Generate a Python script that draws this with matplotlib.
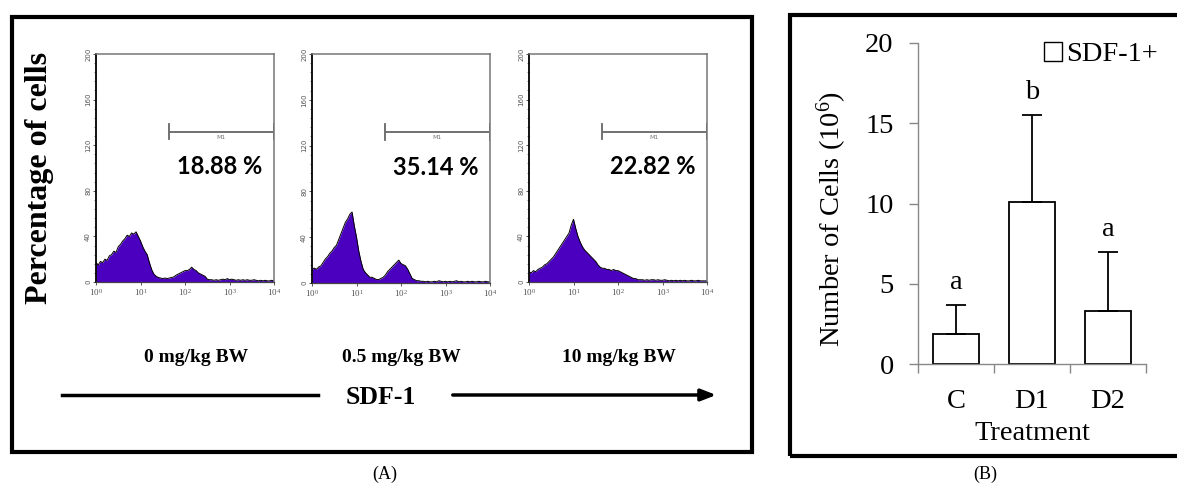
import numpy as np
import matplotlib
matplotlib.use("Agg")
import matplotlib.pyplot as plt
from matplotlib.patches import Rectangle, Patch, FancyArrowPatch
from matplotlib.ticker import MultipleLocator, FixedLocator, NullFormatter, LogLocator

plt.rcParams['font.family'] = ['Liberation Serif', 'DejaVu Serif']
plt.rcParams['mathtext.fontset'] = 'custom'
plt.rcParams['mathtext.rm'] = 'Liberation Serif'
plt.rcParams['mathtext.it'] = 'Liberation Serif:italic'

# ---- Panel A: flow cytometry histograms (81 channels over 10^0..10^4) ----
doses = ["0 mg/kg BW", "0.5 mg/kg BW", "10 mg/kg BW"]
gate_percent = ["18.88 %", "35.14 %", "22.82 %"]

counts_0 = [17, 15, 18, 17, 20, 19, 23, 24, 27, 26, 31, 33, 36, 38, 41, 40, 43, 42, 44, 40,
            36, 31, 27, 24, 17, 11, 7, 5, 4, 3.5, 3, 3.5, 3, 3.5, 4, 4.5, 6, 7, 8, 9,
            10, 10, 11, 13, 11, 10, 8, 7, 6, 5, 2.5, 2, 2, 1.5, 2, 1.5, 2, 2.5, 2, 3,
            2, 2.5, 2, 1.5, 2, 1.5, 2, 1.5, 2, 1.5, 1.5, 2, 1.5, 1, 1.5, 1, 1.5, 1, 1, 1.5, 1]
counts_05 = [12, 13, 12, 14, 15, 18, 21, 23, 26, 28, 31, 33, 38, 43, 48, 53, 56, 60, 62, 50,
             40, 28, 19, 12, 9, 7, 5, 5, 4, 3, 3, 4, 5, 7, 10, 12, 14, 16, 18, 20,
             17, 16, 15, 12, 8, 4, 3, 2, 2, 1.5, 1.5, 1, 1.5, 1, 1, 1.5, 1, 2, 1.5, 1,
             1.5, 1, 1.5, 1, 1.5, 2, 1, 1.5, 1, 1, 1.5, 1, 1.5, 1, 1, 1.5, 1, 1, 1.5, 1, 1]
counts_10 = [9, 8, 10, 9, 11, 12, 13, 15, 16, 18, 20, 22, 25, 28, 31, 34, 37, 40, 43, 50,
             55, 47, 40, 35, 31, 28, 26, 24, 22, 20, 18, 15, 13, 12, 12, 11, 11, 10, 11, 10,
             10, 9, 8, 7, 6, 5, 4, 3, 3, 2, 2, 2, 1.5, 2, 1.5, 2, 2, 1.5, 2, 1.5,
             1.5, 2, 1.5, 1, 1.5, 1, 1.5, 1, 1.5, 1, 1.5, 1, 1, 1.5, 1, 1, 1.5, 1, 1, 1, 1]
histograms = [counts_0, counts_05, counts_10]
channels = np.logspace(0, 4, len(counts_0))

gate_start, gate_end, gate_level = 10 ** 1.64, 10 ** 4, 132

# ---- Panel B: SDF-1+ cell counts ----
treatments = ["C", "D1", "D2"]
cells = [1.9, 10.1, 3.3]
cells_sd = [1.8, 5.4, 3.7]
groups = ["a", "b", "a"]

W, H = 1177, 491
fig = plt.figure(figsize=(W / 100, H / 100), dpi=100)


def fig_rect(x0, y0, x1, y1):
    return [x0 / W, 1 - y1 / H, (x1 - x0) / W, (y1 - y0) / H]


purple = "#4B00BF"
hist_boxes = [(96, 54, 274, 282), (312, 54, 490, 283), (529, 54, 707, 282)]
for box, counts, pct in zip(hist_boxes, histograms, gate_percent):
    ax = fig.add_axes(fig_rect(*box))
    ax.fill_between(channels, counts, color=purple, lw=0)
    ax.plot(channels, counts, color='black', lw=0.7)
    ax.set_xscale('log')
    ax.set_xlim(1, 1e4)
    ax.set_ylim(0, 200)
    ax.xaxis.set_major_locator(FixedLocator([1, 10, 100, 1000, 10000]))
    ax.xaxis.set_minor_locator(LogLocator(base=10, subs=np.arange(2, 10)))
    ax.xaxis.set_minor_formatter(NullFormatter())
    ax.set_xticklabels([r'$10^{%d}$' % i for i in range(5)], fontsize=6.5,
                       color='#555555')
    ax.set_yticks(range(0, 201, 40))
    ax.set_yticklabels([str(v) for v in range(0, 201, 40)], fontsize=5,
                       rotation=90, color='#555555', va='center', family='DejaVu Sans')
    ax.yaxis.set_minor_locator(MultipleLocator(8))
    ax.tick_params(axis='both', which='major', length=2.5, width=0.7, pad=1, colors='#555555')
    ax.tick_params(axis='both', which='minor', length=1.3, width=0.5, colors='#555555')
    for side in ('top', 'right'):
        ax.spines[side].set_color('#777777')
        ax.spines[side].set_linewidth(1.1)
    ax.spines['left'].set_color('black')
    ax.spines['left'].set_linewidth(1.3)
    ax.spines['bottom'].set_color('#444444')
    ax.spines['bottom'].set_linewidth(0.9)
    # M1 gate marker
    ax.plot([gate_start, gate_end], [gate_level, gate_level], color='#666666', lw=1.3,
            solid_capstyle='butt')
    for gx in (gate_start, gate_end):
        ax.plot([gx, gx], [gate_level - 7, gate_level + 7], color='#666666', lw=1.3)
    ax.text(np.sqrt(gate_start * gate_end), gate_level - 3, 'M1', fontsize=4.5,
            color='#777777', ha='center', va='top', family='DejaVu Sans')
    ax.text(10 ** 2.78, 101, pct, fontsize=17, fontweight='bold', ha='center', va='center',
            family=['Lato', 'Liberation Sans', 'DejaVu Sans'])

for x, label in zip([196, 401, 619], doses):
    fig.text(x / W, 1 - 357 / H, label, fontsize=14, fontweight='bold',
             ha='center', va='center')

fig.text(40 / W, 1 - 178 / H, 'Percentage of cells', fontsize=23, fontweight='bold',
         rotation=90, ha='center', va='center')
fig.text(381 / W, 1 - 397 / H, 'SDF-1', fontsize=18.5, fontweight='bold',
         ha='center', va='center')
fig.add_artist(plt.Line2D([62 / W, 318 / W], [1 - 395 / H, 1 - 395 / H],
                          color='black', lw=2.5, transform=fig.transFigure))
fig.patches.append(FancyArrowPatch(
    (450 / W, 1 - 395 / H), (719 / W, 1 - 395 / H), transform=fig.transFigure,
    arrowstyle='-|>,head_length=0.9,head_width=0.35', color='black', lw=2.5,
    mutation_scale=10))

# ---- bar chart ----
axb = fig.add_axes(fig_rect(918, 43, 1146, 364))
xpos = np.arange(len(treatments))
axb.bar(xpos, cells, width=0.6, color='white', edgecolor='black', lw=1.3,
        yerr=[np.zeros(len(cells)), cells_sd],
        error_kw=dict(ecolor='black', elinewidth=1.3, capsize=7, capthick=1.3))
for xi, v, sd, g in zip(xpos, cells, cells_sd, groups):
    axb.text(xi, v + sd + 1.4, g, fontsize=20.5, ha='center', va='center')
axb.set_xlim(-0.5, 2.5)
axb.set_ylim(0, 20)
axb.set_yticks([0, 5, 10, 15, 20])
axb.tick_params(axis='y', direction='out', length=6.5, width=1, colors='#888888',
                labelcolor='black', labelsize=20.5, pad=11)
axb.xaxis.set_major_locator(FixedLocator([-0.5, 0.5, 1.5, 2.5]))
axb.xaxis.set_major_formatter(NullFormatter())
axb.xaxis.set_minor_locator(FixedLocator(list(xpos)))
axb.set_xticklabels(treatments, minor=True)
axb.tick_params(axis='x', which='major', direction='out', length=6.5, width=1,
                colors='#888888')
axb.tick_params(axis='x', which='minor', length=0, labelsize=20.5, labelcolor='black', pad=18)
for side in ('top', 'right'):
    axb.spines[side].set_visible(False)
for side in ('left', 'bottom'):
    axb.spines[side].set_color('#888888')
    axb.spines[side].set_linewidth(1.0)
axb.set_xlabel('Treatment', fontsize=20.5, va='center')
axb.xaxis.set_label_coords(0.5, (364 - 433) / 321)
axb.set_ylabel(r'Number of Cells (10$^{6}$)', fontsize=20.5, va='center')
axb.yaxis.set_label_coords((832 - 918) / 228, 0.5 + (203 - 218) / 321)
axb.legend(handles=[Patch(facecolor='white', edgecolor='black', lw=1)], labels=['SDF-1+'],
           loc='upper right', bbox_to_anchor=(1.1, 1.04), frameon=False, fontsize=20.5,
           handlelength=0.65, handleheight=0.65, handletextpad=0.12, borderaxespad=0)

# ---- panel frames and captions ----
fig.patches.append(Rectangle((12 / W, 1 - 452 / H), 740 / W, 435 / H, fill=False,
                             lw=3, edgecolor='black', transform=fig.transFigure))
fig.patches.append(Rectangle((790 / W, 1 - 456 / H), 400 / W, 441 / H, fill=False,
                             lw=3, edgecolor='black', transform=fig.transFigure))
fig.text(385 / W, 1 - 474 / H, '(A)', fontsize=13, ha='center', va='center')
fig.text(985 / W, 1 - 474 / H, '(B)', fontsize=13, ha='center', va='center')

fig.savefig('out.png', dpi=100)
